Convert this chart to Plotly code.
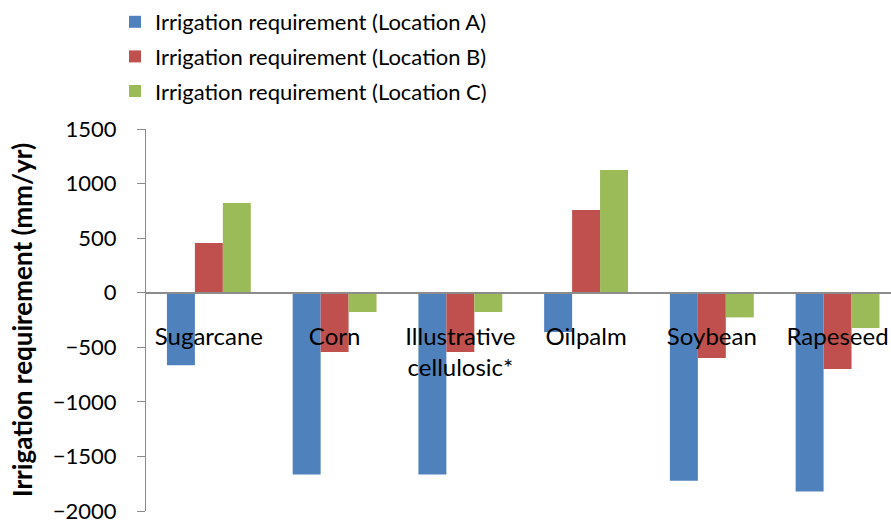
import plotly.graph_objects as go

categories = ["Sugarcane", "Corn", "Illustrative<br>cellulosic*", "Oilpalm", "Soybean", "Rapeseed"]
loc_a = [-665, -1665, -1665, -360, -1723, -1821]
loc_b = [455, -543, -543, 757, -598, -698]
loc_c = [823, -177, -177, 1125, -226, -323]
series_names = ["Irrigation requirement (Location A)",
                "Irrigation requirement (Location B)",
                "Irrigation requirement (Location C)"]
colors = ["#4F81BD", "#C0504D", "#9BBB59"]
y_ticks = [1500, 1000, 500, 0, -500, -1000, -1500, -2000]

FONT = "Lato"

fig = go.Figure()
for i, (name, vals) in enumerate(zip(series_names, [loc_a, loc_b, loc_c])):
    fig.add_trace(go.Bar(
        x=list(range(len(categories))), y=vals, name=name,
        marker=dict(color=colors[i], line=dict(width=0)),
        legendgroup=f"g{i}",
    ))

W, H = 891, 523
ml, mt, mb, mr = 146, 129, 12, 0
ph = H - mt - mb
pw = W - ml - mr
zero_pos = (0 - (-2000)) / 3500

fig.update_layout(
    width=W, height=H,
    margin=dict(l=ml, r=mr, t=mt, b=mb, autoexpand=False),
    paper_bgcolor="white", plot_bgcolor="white",
    font=dict(family=FONT, size=22, color="black"),
    barmode="group", bargap=0.333, bargroupgap=0,
    showlegend=True,
    legend=dict(
        x=(115 - ml) / pw, xanchor="left", y=(ph + mt - 1) / ph, yanchor="top",
        yref="paper", xref="paper",
        font=dict(family=FONT, size=22),
        tracegroupgap=3,
        bgcolor="rgba(0,0,0,0)",
    ),
    xaxis=dict(
        tickmode="array", tickvals=list(range(len(categories))), ticktext=categories,
        range=[-0.5, 5.425],
        anchor="free", position=zero_pos,
        showline=True, linecolor="#8C8C8C", linewidth=1.5,
        ticks="", ticklabelstandoff=23,
        showgrid=False, zeroline=False,
        tickfont=dict(family=FONT, size=24),
        ticklabeloverflow="allow",
    ),
    yaxis=dict(
        range=[-2000, 1500], tickmode="array", tickvals=y_ticks,
        ticks="outside", ticklen=8, tickcolor="#8C8C8C", tickwidth=1,
        ticklabelstandoff=16,
        showline=True, linecolor="#8C8C8C", linewidth=1,
        showgrid=False, zeroline=False,
        tickfont=dict(family=FONT, size=22),
        ticklabeloverflow="allow",
        title=dict(text="<b>Irrigation requirement (mm/yr)</b>",
                   font=dict(family=FONT, size=26), standoff=12),
    ),
)

fig.write_html("out.html", config={"displayModeBar": False},
               post_script="document.body.style.margin='0';")
